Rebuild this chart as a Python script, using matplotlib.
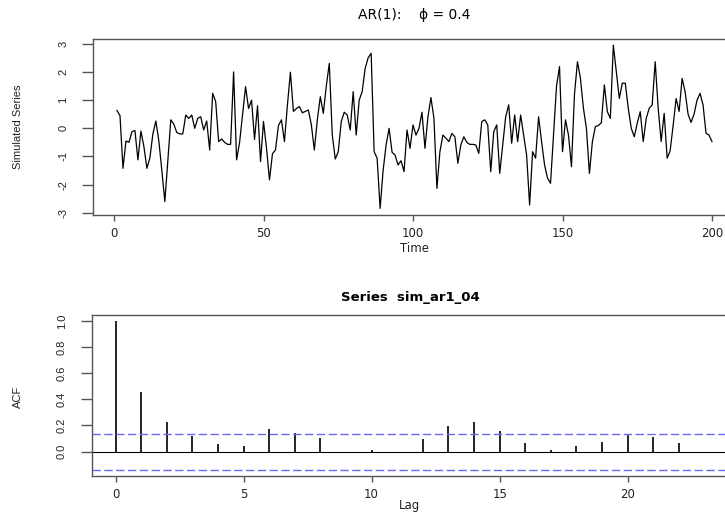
import numpy as np
import matplotlib
matplotlib.use("Agg")
import matplotlib.pyplot as plt

# simulated AR(1) series, phi = 0.4
sim_ar1_04 = [
    0.63, 0.45, -1.42, -0.45, -0.5, -0.12, -0.08, -1.12, -0.1, -0.65,
    -1.42, -1.05, -0.2, 0.26, -0.45, -1.5, -2.6, -1.15, 0.3, 0.15,
    -0.15, -0.2, -0.2, 0.47, 0.35, 0.47, 0.0, 0.35, 0.41, -0.06,
    0.26, -0.77, 1.24, 0.95, -0.47, -0.38, -0.5, -0.57, -0.57, 2.0,
    -1.12, -0.5, 0.5, 1.48, 0.7, 1.0, -0.4, 0.8, -1.18, 0.24,
    -0.7, -1.83, -0.9, -0.77, 0.1, 0.3, -0.47, 0.83, 1.99, 0.6,
    0.7, 0.77, 0.55, 0.6, 0.65, 0.12, -0.77, 0.3, 1.12, 0.53,
    1.5, 2.3, -0.24, -1.09, -0.83, 0.24, 0.57, 0.47, -0.06, 1.3,
    -0.24, 1.0, 1.3, 2.13, 2.5, 2.66, -0.83, -1.06, -2.84, -1.5,
    -0.59, 0.0, -0.85, -0.95, -1.3, -1.15, -1.54, -0.06, -0.71, 0.12,
    -0.24, 0.0, 0.57, -0.71, 0.41, 1.09, 0.35, -2.13, -0.83, -0.24,
    -0.35, -0.47, -0.18, -0.3, -1.24, -0.59, -0.3, -0.5, -0.57, -0.57,
    -0.59, -0.89, 0.24, 0.3, 0.12, -1.54, -0.12, 0.12, -1.6, -0.59,
    0.41, 0.83, -0.53, 0.47, -0.47, 0.47, -0.24, -0.95, -2.72, -0.83,
    -1.06, 0.41, -0.47, -1.3, -1.77, -1.95, -0.2, 1.5, 2.19, -0.83,
    0.3, -0.24, -1.36, 1.2, 2.36, 1.77, 0.71, 0.0, -1.6, -0.47,
    0.06, 0.1, 0.2, 1.54, 0.59, 0.35, 2.95, 2.0, 1.06, 1.6,
    1.6, 0.7, 0.0, -0.3, 0.18, 0.59, -0.47, 0.35, 0.71, 0.83,
    2.36, 0.71, -0.47, 0.53, -1.06, -0.8, 0.1, 1.06, 0.6, 1.77,
    1.3, 0.5, 0.21, 0.5, 1.0, 1.24, 0.83, -0.18, -0.24, -0.47,
]
time = np.arange(1, len(sim_ar1_04) + 1)

# sample ACF, lags 0..23
lags = np.arange(0, 24)
acf_vals = [1.0, 0.455, 0.228, 0.12, 0.059, 0.043, 0.171, 0.143, 0.102, -0.01,
            0.015, -0.003, 0.095, 0.194, 0.225, 0.161, 0.069, 0.015, 0.043, 0.072,
            0.136, 0.115, 0.069, -0.005]

top_xticks = [0, 50, 100, 150, 200]
top_yticks = [-3, -2, -1, 0, 1, 2, 3]
acf_xticks = [0, 5, 10, 15, 20]
acf_yticks = [0.0, 0.2, 0.4, 0.6, 0.8, 1.0]

W, H = 725, 512
fig = plt.figure(figsize=(W / 100, H / 100), dpi=100)

wide_font = ["DejaVu Sans"]
narrow_font = ["Liberation Sans Narrow", "Liberation Sans", "DejaVu Sans"]
frame_col = "#555555"
text_col = "#222222"


def r_pad(lo, hi):
    # R style 4% axis extension
    d = (hi - lo) * 0.04
    return lo - d, hi + d


def style_axes(ax, xticks, yticks, ylabels):
    for sp in ax.spines.values():
        sp.set_color(frame_col)
        sp.set_linewidth(1.0)
    ax.set_xticks(xticks)
    ax.set_xticklabels([str(t) for t in xticks], fontfamily=wide_font,
                       fontsize=8.5, color=text_col)
    ax.set_yticks(yticks)
    ax.set_yticklabels(ylabels, fontfamily=narrow_font, fontsize=8,
                       color=text_col, rotation=90, va="center")
    ax.tick_params(axis="x", length=4, width=1, color=frame_col, pad=5)
    ax.tick_params(axis="y", length=8, width=1, color=frame_col, pad=10)


# top panel: the simulated series
ax1 = fig.add_axes([93.2 / W, 1 - 214.9 / H, 642.6 / W, 176.3 / H])
ax1.plot(time, sim_ar1_04, color="black", lw=0.9)
ax1.set_xlim(*r_pad(time.min(), time.max()))
ax1.set_ylim(*r_pad(min(sim_ar1_04), max(sim_ar1_04)))
style_axes(ax1, top_xticks, top_yticks, [str(t) for t in top_yticks])

fig.text(414 / W, 1 - 15 / H, "AR(1):    \u03d5 = 0.4", ha="center", va="center",
         fontfamily=wide_font, fontsize=10, color="black")
fig.text(414 / W, 1 - 248 / H, "Time", ha="center", va="center",
         fontfamily=wide_font, fontsize=8.5, color=text_col)
fig.text(18 / W, 1 - 127 / H, "Simulated Series", ha="center", va="center",
         rotation=90, fontfamily=narrow_font, fontsize=8, color=text_col)

# bottom panel: ACF with 95% bounds
n = len(sim_ar1_04)
ci = 1.96 / np.sqrt(n)
ax2 = fig.add_axes([92 / W, 1 - 475.7 / H, 636 / W, 160.7 / H])
ax2.vlines(lags, 0, acf_vals, color="black", lw=1.2)
ax2.axhline(0, color="black", lw=0.8)
ax2.axhline(ci, color="#6a6aee", lw=1, linestyle=(0, (6, 2.5)))
ax2.axhline(-ci, color="#6a6aee", lw=1, linestyle=(0, (6, 2.5)))
ax2.set_xlim(*r_pad(lags.min(), lags.max()))
ax2.set_ylim(*r_pad(min(min(acf_vals), -ci), max(max(acf_vals), ci)))
style_axes(ax2, acf_xticks, acf_yticks, ["%.1f" % t for t in acf_yticks])

fig.text(410 / W, 1 - 298 / H, "Series  sim_ar1_04", ha="center", va="center",
         fontfamily=wide_font, fontsize=9.5, fontweight="bold", color="black")
fig.text(410 / W, 1 - 506 / H, "Lag", ha="center", va="center",
         fontfamily=wide_font, fontsize=8.5, color=text_col)
fig.text(18 / W, 1 - 397 / H, "ACF", ha="center", va="center",
         rotation=90, fontfamily=narrow_font, fontsize=8, color=text_col)

fig.savefig("out.png", dpi=100, facecolor="white")
